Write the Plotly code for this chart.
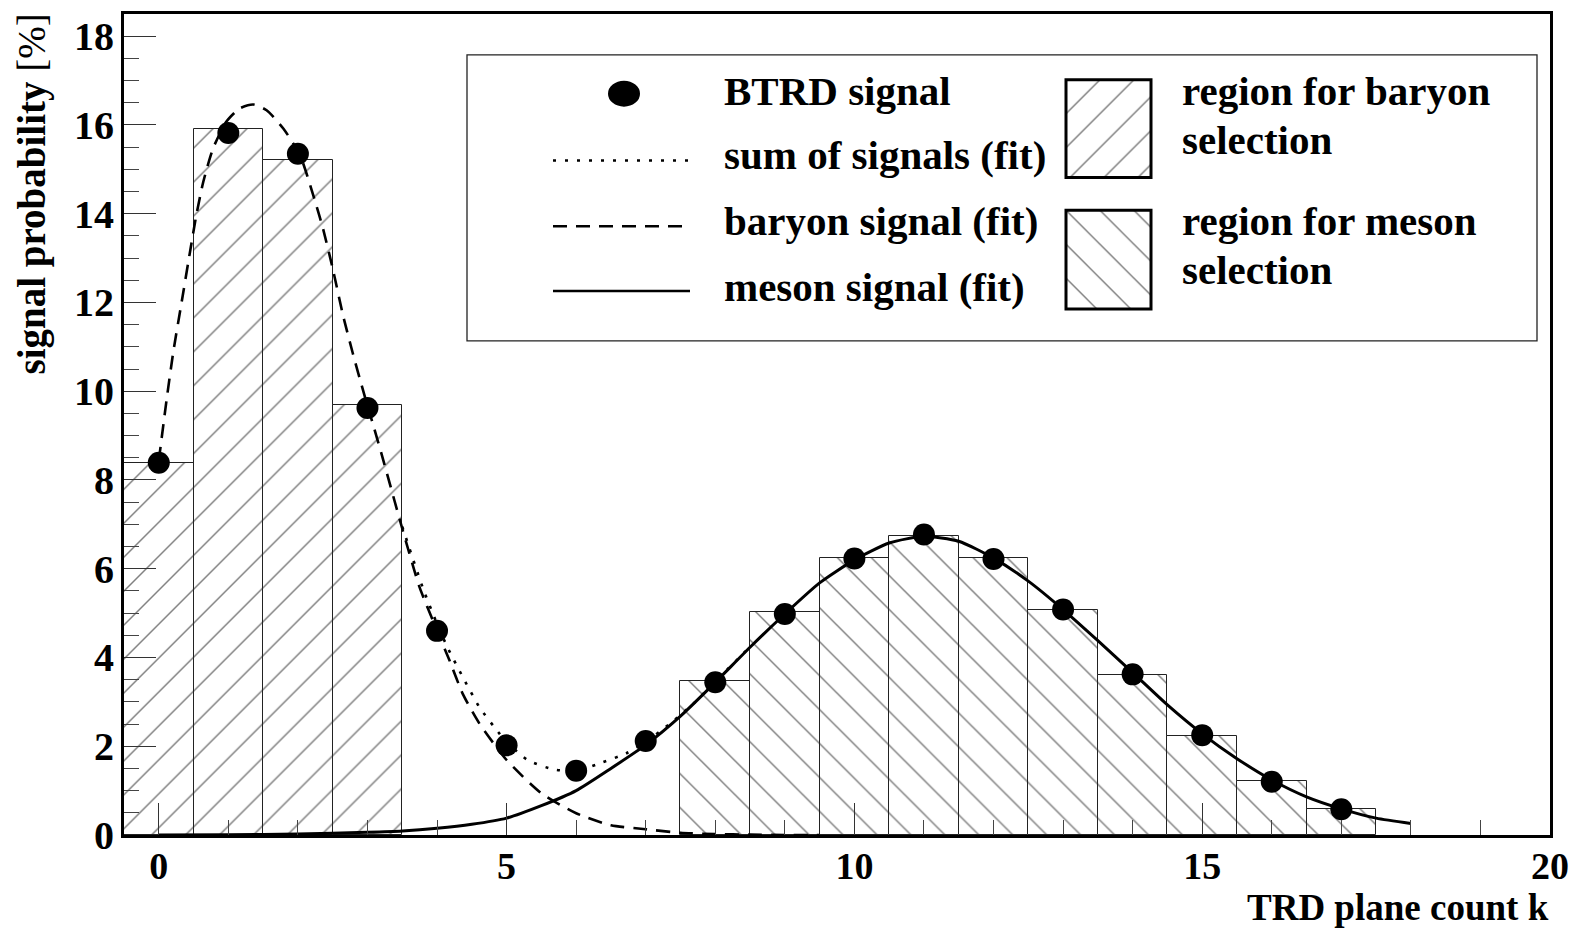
import plotly.graph_objects as go

# ---------------- data ----------------
k_points = list(range(18))
btrd_signal = [8.39, 15.82, 15.35, 9.62, 4.60, 2.02, 1.45, 2.12, 3.44, 4.98,
               6.23, 6.77, 6.22, 5.08, 3.62, 2.25, 1.20, 0.58]

baryon_k = [0, 1, 2, 3]
baryon_bars = [8.39, 15.92, 15.22, 9.68]
meson_k = [8, 9, 10, 11, 12, 13, 14, 15, 16, 17]
meson_bars = [3.48, 5.02, 6.25, 6.74, 6.25, 5.08, 3.60, 2.23, 1.21, 0.58]

baryon_fit_x = [0, 0.11, 0.21, 0.33, 0.45, 0.54, 0.64, 0.78, 0.97, 1.16, 1.36, 1.55,
                1.79, 2.03, 2.22, 2.36, 2.5, 2.65, 2.79, 2.94, 3.08, 3.2, 3.51, 3.75,
                4.0, 4.18, 4.37, 4.61, 5.0, 5.5, 6.0, 6.5, 7.0, 7.5, 8.0, 8.5, 9.0, 9.5]
baryon_fit_y = [8.43, 9.78, 10.9, 12.02, 13.15, 13.97, 14.72, 15.47, 16.07, 16.37, 16.46, 16.33,
                15.92, 15.32, 14.42, 13.67, 12.77, 11.7, 10.85, 10.0, 9.25, 8.6, 6.85, 5.58,
                4.61, 3.93, 3.18, 2.51, 1.69, 0.94, 0.49, 0.22, 0.13, 0.05, 0.02, 0.01, 0.0, 0.0]

meson_fit_x = [0, 1, 2, 3, 3.5, 4, 4.5, 5, 5.5, 6, 6.5, 7, 7.5, 8, 8.5, 9, 9.5, 10, 10.5,
               11, 11.5, 12, 12.5, 13, 13.5, 14, 14.5, 15, 15.5, 16, 16.5, 17, 17.5, 18]
meson_fit_y = [0.0, 0.005, 0.02, 0.06, 0.09, 0.15, 0.24, 0.38, 0.66, 1.0, 1.5, 2.03, 2.68,
               3.44, 4.23, 4.98, 5.68, 6.2, 6.58, 6.73, 6.62, 6.24, 5.72, 5.08, 4.38, 3.66,
               2.93, 2.28, 1.72, 1.24, 0.86, 0.59, 0.38, 0.26]

sum_fit_x = [3.5, 3.8, 4.0, 4.15, 4.37, 4.61, 4.9, 5.0, 5.3, 5.67, 6.0, 6.33, 6.72, 7.0,
             7.35, 7.7, 8.0, 8.5]
sum_fit_y = [6.95, 5.55, 4.76, 4.23, 3.56, 2.88, 2.28, 2.10, 1.69, 1.48, 1.44, 1.61, 1.84,
             2.10, 2.51, 2.98, 3.46, 4.24]

x_tick_vals = [0, 5, 10, 15, 20]
y_tick_vals = [0, 2, 4, 6, 8, 10, 12, 14, 16, 18]

legend_lines = ["BTRD signal", "sum of signals (fit)", "baryon signal (fit)", "meson signal (fit)"]
legend_regions = [("region for baryon", "selection"), ("region for meson", "selection")]

# ---------------- layout geometry ----------------
W, H = 1581, 929
L, R, T, B = 124, 31, 11, 94
PW, PH = W - L - R, H - T - B
FONT = "Liberation Serif"


def px(x):
    return (x - L) / PW


def py(y):
    return (H - B - y) / PH


fig = go.Figure()

# bars with hatch patterns
fig.add_trace(go.Bar(
    x=baryon_k, y=baryon_bars, width=1, showlegend=False,
    marker=dict(color="white", line=dict(color="#222", width=1),
                pattern=dict(shape="/", fgcolor="black", bgcolor="white", size=24, solidity=0.06)),
))
fig.add_trace(go.Bar(
    x=meson_k, y=meson_bars, width=1, showlegend=False,
    marker=dict(color="white", line=dict(color="#222", width=1),
                pattern=dict(shape="\\", fgcolor="black", bgcolor="white", size=24, solidity=0.06)),
))

# fitted curves
fig.add_trace(go.Scatter(x=baryon_fit_x, y=baryon_fit_y, mode="lines", showlegend=False,
                         line=dict(color="black", width=2.6, dash="14px,9px", shape="spline", smoothing=0.6)))
fig.add_trace(go.Scatter(x=meson_fit_x, y=meson_fit_y, mode="lines", showlegend=False,
                         line=dict(color="black", width=3, shape="spline", smoothing=0.6)))
fig.add_trace(go.Scatter(x=sum_fit_x, y=sum_fit_y, mode="lines", showlegend=False,
                         line=dict(color="black", width=2.6, dash="3px,9px", shape="spline", smoothing=0.6)))

# data points
fig.add_trace(go.Scatter(x=k_points, y=btrd_signal, mode="markers", showlegend=False,
                         marker=dict(color="black", size=22, symbol="circle")))

# legend hatched swatches drawn as bars on small helper axes
sw_x0, sw_x1 = px(1066), px(1151)
fig.add_trace(go.Bar(x=[0], y=[1], width=1, xaxis="x2", yaxis="y2", showlegend=False,
                     marker=dict(color="white", line=dict(width=0),
                                 pattern=dict(shape="/", fgcolor="black", bgcolor="white", size=24, solidity=0.06))))
fig.add_trace(go.Bar(x=[0], y=[1], width=1, xaxis="x3", yaxis="y3", showlegend=False,
                     marker=dict(color="white", line=dict(width=0),
                                 pattern=dict(shape="\\", fgcolor="black", bgcolor="white", size=24, solidity=0.06))))

xtickfont = dict(family=FONT, size=38, color="black", weight="bold")
ytickfont = dict(family=FONT, size=40, color="black", weight="bold")

fig.update_layout(
    width=W, height=H, autosize=False,
    margin=dict(l=L, r=R, t=T, b=B),
    paper_bgcolor="white", plot_bgcolor="white",
    barmode="overlay", bargap=0,
    xaxis=dict(range=[-0.5, 20], tickvals=x_tick_vals, ticktext=[str(v) for v in x_tick_vals],
               ticks="inside", ticklen=32, tickwidth=1.2, tickcolor="#333",
               minor=dict(dtick=1, tick0=0, ticks="inside", ticklen=15, tickwidth=1.2, tickcolor="#444"),
               showgrid=False, zeroline=False, showline=True, linewidth=3, linecolor="black",
               mirror=True, tickfont=xtickfont, ticklabelstandoff=-5),
    yaxis=dict(range=[0, 18.5], tickvals=y_tick_vals, ticktext=[str(v) for v in y_tick_vals],
               ticks="inside", ticklen=32, tickwidth=1.2, tickcolor="#333",
               minor=dict(dtick=0.5, tick0=0, ticks="inside", ticklen=15, tickwidth=1.2, tickcolor="#444"),
               showgrid=False, zeroline=False, showline=True, linewidth=3, linecolor="black",
               mirror=True, tickfont=ytickfont, ticklabelstandoff=-1),
    xaxis2=dict(domain=[sw_x0, sw_x1], anchor="y2", range=[-0.5, 0.5], visible=False, fixedrange=True),
    yaxis2=dict(domain=[py(175), py(77)], anchor="x2", range=[0, 1], visible=False, fixedrange=True),
    xaxis3=dict(domain=[sw_x0, sw_x1], anchor="y3", range=[-0.5, 0.5], visible=False, fixedrange=True),
    yaxis3=dict(domain=[py(307), py(208)], anchor="x3", range=[0, 1], visible=False, fixedrange=True),
)

shapes = []
# legend frame
shapes.append(dict(type="rect", xref="paper", yref="paper", x0=px(467), x1=px(1537), y0=py(339), y1=py(52),
                   line=dict(color="#222", width=1.3), fillcolor="rgba(0,0,0,0)", layer="above"))
# legend marker
shapes.append(dict(type="circle", xref="paper", yref="paper", x0=px(608), x1=px(640), y0=py(104), y1=py(78),
                   line=dict(color="black", width=0), fillcolor="black", layer="above"))
# legend line samples
shapes.append(dict(type="line", xref="paper", yref="paper", x0=px(553), x1=px(692), y0=py(158), y1=py(158),
                   line=dict(color="black", width=2.6, dash="3px,9px"), layer="above"))
shapes.append(dict(type="line", xref="paper", yref="paper", x0=px(553), x1=px(682), y0=py(224), y1=py(224),
                   line=dict(color="black", width=2.6, dash="14px,9px"), layer="above"))
shapes.append(dict(type="line", xref="paper", yref="paper", x0=px(553), x1=px(690), y0=py(289), y1=py(289),
                   line=dict(color="black", width=2.6), layer="above"))
# swatch borders
for y0, y1 in [(175, 77), (307, 208)]:
    shapes.append(dict(type="rect", xref="paper", yref="paper", x0=sw_x0, x1=sw_x1, y0=py(y0), y1=py(y1),
                       line=dict(color="black", width=3), fillcolor="rgba(0,0,0,0)", layer="above"))
fig.update_layout(shapes=shapes)

lfont = dict(family=FONT, size=41, color="black")
ann = []
for text, yy in zip(legend_lines, [88, 153, 219, 285]):
    ann.append(dict(text="<b>" + text + "</b>", xref="paper", yref="paper", x=px(722), y=py(yy),
                    xanchor="left", yanchor="middle", showarrow=False, font=lfont))
for (l1, l2), (y1, y2) in zip(legend_regions, [(88, 137), (219, 268)]):
    ann.append(dict(text="<b>" + l1 + "</b>", xref="paper", yref="paper", x=px(1180), y=py(y1),
                    xanchor="left", yanchor="middle", showarrow=False, font=lfont))
    ann.append(dict(text="<b>" + l2 + "</b>", xref="paper", yref="paper", x=px(1180), y=py(y2),
                    xanchor="left", yanchor="middle", showarrow=False, font=lfont))
# axis titles
ann.append(dict(text="<b>TRD plane count k</b>", xref="paper", yref="paper", x=1, y=0,
                xanchor="right", yanchor="bottom", yshift=-94, showarrow=False, borderpad=0,
                font=dict(family=FONT, size=37, color="black")))
ann.append(dict(text="<b>signal probability</b> [%]", xref="paper", yref="paper", x=0, y=1,
                xanchor="center", yanchor="top", xshift=-93, yshift=2, textangle=-90, showarrow=False,
                font=dict(family=FONT, size=39, color="black")))
fig.update_layout(annotations=ann)

fig.write_html("out.html")
